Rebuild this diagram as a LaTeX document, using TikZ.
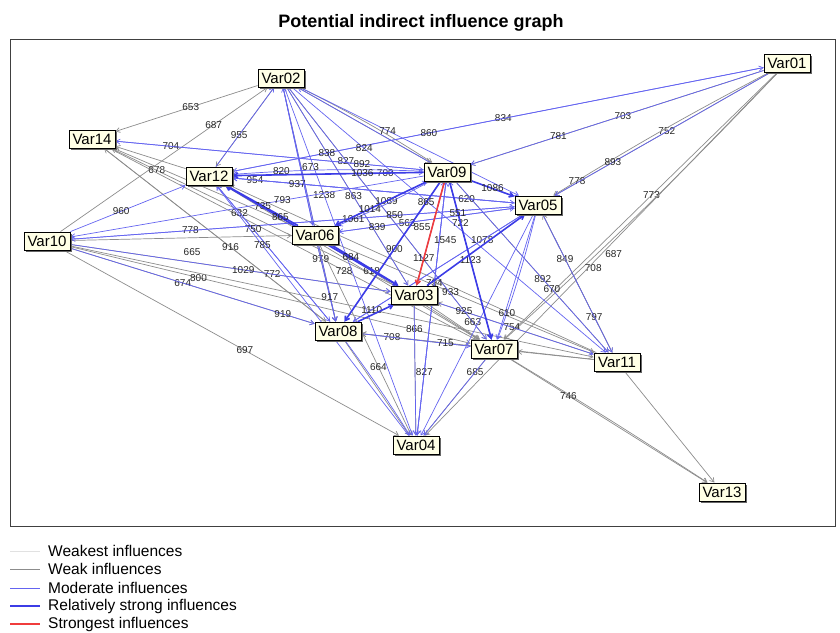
\documentclass[tikz,border=0pt]{standalone}
\usepackage{fontspec}
\setmainfont{Liberation Sans}
\usetikzlibrary{arrows.meta,backgrounds}

\definecolor{weakestgray}{RGB}{225,225,225}
\definecolor{weakgray}{RGB}{140,140,140}
\definecolor{modblue}{RGB}{100,100,240}
\definecolor{strongblue}{RGB}{60,60,230}
\definecolor{topred}{RGB}{240,60,60}
\definecolor{varfill}{RGB}{255,255,230}

\tikzset{
  var/.style={draw=black, line width=0.9pt, fill=varfill, inner sep=1pt,
    minimum width=46pt, minimum height=18pt, font=\fontsize{15}{15}\selectfont,
    preaction={draw=none, fill=black!60, transform canvas={shift={(2.2pt,-2.2pt)}}}},
  lbl/.style={font=\fontsize{10}{10}\selectfont, inner sep=0.5pt, text=black!85},
  weakest/.style={draw=weakestgray, line width=0.5pt},
  weak/.style={->, draw=weakgray, line width=0.7pt},
  moder/.style={->, draw=modblue, line width=0.7pt},
  relstrong/.style={->, draw=strongblue, line width=1.6pt},
  strongest/.style={->, draw=topred, line width=1.6pt},
  legtext/.style={anchor=west, font=\fontsize{15.5}{15.5}\selectfont, inner sep=0pt}
}

\begin{document}
\begin{tikzpicture}[x=1pt,y=-1pt,>={Straight Barb[length=4pt,width=5pt]}]
  \useasboundingbox (0,0) rectangle (840,632);
  \node[font=\fontsize{18}{18}\selectfont\bfseries] (title) at (421,23) {Potential indirect influence graph};

  % variables
  \node[var] (v01) at (787,63) {Var01};
  \node[var] (v02) at (281,78) {Var02};
  \node[var] (v14) at (92,139) {Var14};
  \node[var] (v12) at (209,176) {Var12};
  \node[var] (v09) at (447,172) {Var09};
  \node[var] (v05) at (538,205) {Var05};
  \node[var] (v10) at (47,241) {Var10};
  \node[var] (v06) at (315,235) {Var06};
  \node[var] (v03) at (414,295) {Var03};
  \node[var] (v08) at (338,331) {Var08};
  \node[var] (v07) at (494,349) {Var07};
  \node[var] (v11) at (617,362) {Var11};
  \node[var] (v04) at (416,445) {Var04};
  \node[var] (v13) at (722,492) {Var13};

  \begin{scope}[on background layer, every node/.style={lbl}]
    \draw[black!75, line width=1pt] (10,39) rectangle (835,526);

    % weak influences
    \path[weak]
      (v02) edge node[pos=.47] {653} (v14)
      (v10) edge node[pos=.74] {687} (v02)
      (v02) edge (v12)
      (v02) edge (v09)
      (v02) edge [bend left=3] (v09)
      (v02) edge node[pos=.29] {827} (v07)
      (v02) edge (v08)
      (v02) edge node[pos=.55] {863} (v03)
      (v01) edge node[pos=.48] {703} (v09)
      (v01) edge node[pos=.48] {752} (v05)
      (v01) edge [bend right=2] node[pos=.9] {778} (v05)
      (v01) edge node[pos=.46] {773} (v07)
      (v01) edge [bend left=2] node[pos=.74, right=2pt] {708} (v07)
      (v01) edge node[pos=.5, right=3pt] {687} (v04)
      (v03) edge node[pos=.84] {678} (v14)
      (v06) edge (v14)
      (v12) edge (v14)
      (v08) edge (v14)
      (v14) edge node[pos=.57] {916} (v08)
      (v14) edge node[pos=.64] {728} (v07)
      (v10) edge node[pos=.55, below=10pt] {665} (v06)
      (v10) edge node[pos=.32] {800} (v07)
      (v10) edge node[pos=.63] {772} (v03)
      (v10) edge node[pos=.46] {674} (v08)
      (v10) edge node[pos=.54] {697} (v04)
      (v10) edge (v11)
      (v12) edge (v07)
      (v11) edge (v12)
      (v06) edge node[pos=.28] {618} (v07)
      (v06) edge node[pos=.44] {933} (v11)
      (v06) edge node[pos=.19] {979} (v08)
      (v06) edge node[pos=.64] {664} (v04)
      (v03) edge node[pos=.19] {866} (v04)
      (v07) edge node[pos=.72] {708} (v08)
      (v11) edge (v08)
      (v11) edge (v03)
      (v11) edge (v07)
      (v03) edge (v07)
      (v08) edge (v04)
      (v07) edge node[pos=.18] {685} (v04)
      (v07) edge node[pos=.3] {746} (v13)
      (v07) edge [bend left=1] (v13)
      (v11) edge (v13)
      (v05) edge node[pos=.32] {849} (v11)
      (v11) edge node[pos=.26] {797} (v05)
      (v09) edge node[pos=.57] {892} (v11);

    % moderate influences
    \path[moder]
      (v01) edge node[pos=.49] {834} (v12)
      (v12) edge node[pos=.37] {860} (v01)
      (v01) edge node[pos=.7] {781} (v09)
      (v01) edge node[pos=.73] {893} (v05)
      (v12) edge node[pos=.4] {955} (v02)
      (v02) edge node[pos=.4] {774} (v05)
      (v09) edge (v02)
      (v02) edge (v06)
      (v02) edge node[pos=.33] {838} (v03)
      (v02) edge node[pos=.93] {663} (v07)
      (v02) edge node[pos=.23] {824} (v11)
      (v02) edge (v08)
      (v02) edge node[pos=.31] {1238} (v04)
      (v12) edge node[pos=.8] {700} (v09)
      (v09) edge node[pos=.82] {704} (v14)
      (v14) edge node[pos=.8] {892} (v09)
      (v09) edge [bend right=3] node[pos=.76] {820} (v12)
      (v05) edge node[pos=.92] {954} (v12)
      (v12) edge node[pos=.83] {620} (v05)
      (v05) edge node[pos=.77] {937} (v12)
      (v09) edge node[pos=.4] {793} (v10)
      (v05) edge node[pos=.73] {778} (v10)
      (v10) edge node[pos=.73] {850} (v05)
      (v06) edge node[pos=.56] {1089} (v09)
      (v05) edge node[pos=.61] {563} (v06)
      (v09) edge [bend left=3] node[pos=.85] {1061} (v06)
      (v06) edge node[pos=.22] {839} (v05)
      (v09) edge node[pos=.48] {900} (v08)
      (v09) edge node[pos=.74] {1127} (v03)
      (v03) edge node[pos=.56, left=1pt] {855} (v09)
      (v07) edge node[pos=.74] {722} (v09)
      (v04) edge node[pos=.6] {794} (v09)
      (v09) edge node[pos=.5] {1123} (v07)
      (v09) edge node[pos=.63] {670} (v11)
      (v09) edge node[pos=.75] {827} (v04)
      (v08) edge node[pos=.76] {1078} (v05)
      (v05) edge node[pos=.89] {1110} (v08)
      (v05) edge node[pos=.9, right=2pt] {754} (v07)
      (v05) edge [bend left=3] node[pos=.8] {610} (v07)
      (v05) edge (v04)
      (v05) edge (v11)
      (v10) edge node[pos=.44] {960} (v12)
      (v10) edge node[pos=.54] {1029} (v03)
      (v10) edge node[pos=.87] {919} (v08)
      (v08) edge node[pos=.8] {632} (v12)
      (v12) edge node[pos=.32] {750} (v08)
      (v04) edge node[pos=.76] {785} (v12)
      (v06) edge node[pos=.68] {917} (v08)
      (v06) edge node[pos=.42, right=1pt] {673} (v02)
      (v03) edge node[pos=.17] {925} (v11)
      (v08) edge node[pos=.77] {715} (v07)
      (v08) edge [bend left=2] (v04)
      (v07) edge (v04)
      (v03) edge (v04)
      (v09) edge (v04);

    % relatively strong influences
    \path[relstrong]
      (v09) edge node[pos=.32] {1036} (v12)
      (v09) edge node[pos=.5] {1086} (v05)
      (v09) edge node[pos=.62] {1014} (v06)
      (v09) edge node[pos=.15] {865} (v08)
      (v09) edge node[pos=.2] {551} (v07)
      (v06) edge node[pos=.49] {735} (v12)
      (v03) edge node[pos=.68] {865} (v12)
      (v06) edge node[pos=.3] {684} (v03)
      (v03) edge (v05)
      (v08) edge (v03);

    % strongest influence
    \path[strongest]
      (v09) edge node[pos=.56, right=4pt] {1545} (v03);
  \end{scope}

  % legend
  \node[legtext] (lg1) at (48,551) {Weakest influences};
  \node[legtext] (lg2) at (48,569) {Weak influences};
  \node[legtext] (lg3) at (48,588) {Moderate influences};
  \node[legtext] (lg4) at (48,606) {Relatively strong influences};
  \node[legtext] (lg5) at (48,624) {Strongest influences};
  \draw[weakest] ([xshift=-38pt]lg1.west) -- ([xshift=-8pt]lg1.west);
  \draw[weak,-] ([xshift=-38pt]lg2.west) -- ([xshift=-8pt]lg2.west);
  \draw[moder,-] ([xshift=-38pt]lg3.west) -- ([xshift=-8pt]lg3.west);
  \draw[relstrong,-] ([xshift=-38pt]lg4.west) -- ([xshift=-8pt]lg4.west);
  \draw[strongest,-] ([xshift=-38pt]lg5.west) -- ([xshift=-8pt]lg5.west);
\end{tikzpicture}
\end{document}
